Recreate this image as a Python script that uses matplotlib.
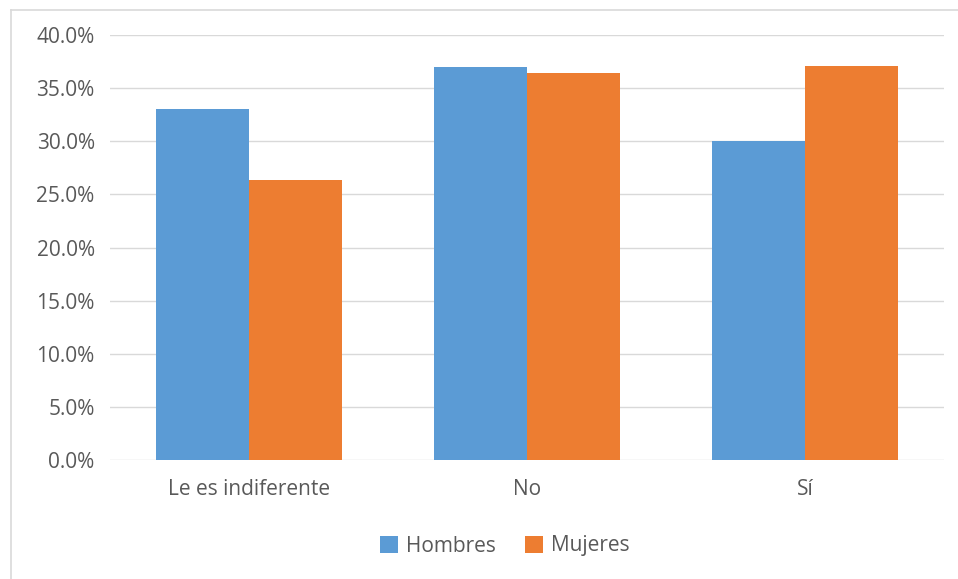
import matplotlib.pyplot as plt
import numpy as np
from matplotlib.lines import Line2D
from matplotlib.patches import Patch
from matplotlib.ticker import FuncFormatter

# ---- Data ----
categories = ["Le es indiferente", "No", "Sí"]
hombres = [33.0, 37.0, 30.0]
mujeres = [26.4, 36.4, 37.1]
series_names = ["Hombres", "Mujeres"]
yticks = [0, 5, 10, 15, 20, 25, 30, 35, 40]

BLUE = "#5B9BD5"
ORANGE = "#ED7D31"
TEXT = "#595959"
GRID = "#D9D9D9"

plt.rcParams['font.family'] = ['Open Sans', 'DejaVu Sans']

W, H = 958, 579
fig = plt.figure(figsize=(W / 100, H / 100), dpi=100)
fig.patch.set_facecolor("white")

# plot area in pixels (from the reference)
left, right, top, bottom = 110, 944, 35, 460
ax = fig.add_axes([left / W, 1 - bottom / H, (right - left) / W, (bottom - top) / H])

x = np.arange(len(categories))
bw = 1 / 3
ax.bar(x - bw / 2, hombres, width=bw, color=BLUE, zorder=3)
ax.bar(x + bw / 2, mujeres, width=bw, color=ORANGE, zorder=3)

ax.set_xlim(-0.5, len(categories) - 0.5)
ax.set_ylim(0, 40)
ax.set_yticks(yticks)
ax.yaxis.set_major_formatter(FuncFormatter(lambda v, p: f"{v:.1f}%"))
ax.set_xticks(x)
ax.set_xticklabels(categories)
ax.grid(axis="y", color=GRID, linewidth=1, zorder=0)
ax.tick_params(axis="both", length=0, labelsize=15, labelcolor=TEXT)
ax.tick_params(axis="y", pad=11)
ax.tick_params(axis="x", pad=14)
for s in ax.spines.values():
    s.set_visible(False)

# legend
handles = [Patch(facecolor=BLUE, label=series_names[0]),
           Patch(facecolor=ORANGE, label=series_names[1])]
fig.legend(handles=handles, loc="center", bbox_to_anchor=(505 / W, 1 - 546 / H),
           ncol=2, frameon=False, fontsize=15, labelcolor=TEXT,
           handlelength=0.85, handleheight=0.85, handletextpad=0.4, columnspacing=1.4)

# chart outer border (top and left visible)
fig.add_artist(Line2D([11 / W, 11 / W], [0, 1 - 10 / H], color="#D9D9D9", linewidth=1.2,
                      transform=fig.transFigure))
fig.add_artist(Line2D([11 / W, 1], [1 - 10 / H, 1 - 10 / H], color="#D9D9D9", linewidth=1.2,
                      transform=fig.transFigure))

fig.savefig("out.png", dpi=100)
